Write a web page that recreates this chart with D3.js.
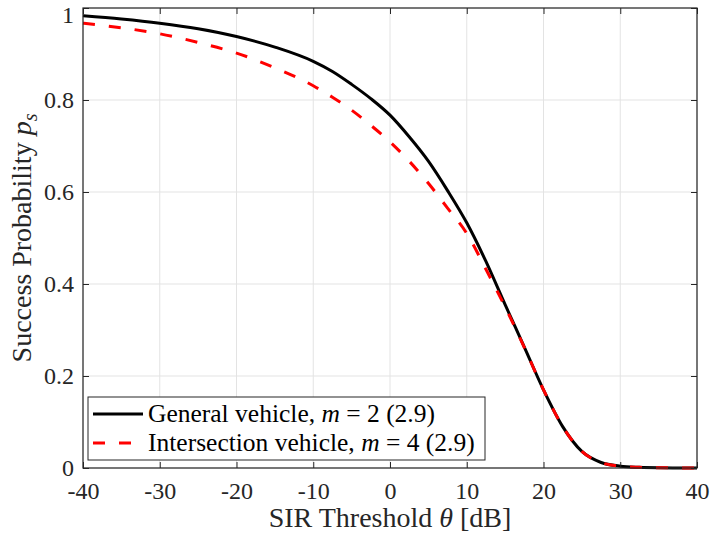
<!DOCTYPE html>
<html><head><meta charset="utf-8">
<script src="https://cdn.jsdelivr.net/npm/d3@7"></script>
<style>body{margin:0;background:#fff}svg{display:block}</style>
</head><body>
<svg id="c" width="710" height="537"></svg>
<script>
const theta = [-40,-35,-30,-25,-20,-15,-10,-7.5,-5,-2.5,0,2.5,5,7.5,10,12.5,15,17.5,20,22.5,25,27.5,30,32.5,35,37.5,40];
const generalVehicle = [0.983,0.976,0.967,0.955,0.938,0.915,0.884,0.862,0.834,0.803,0.767,0.720,0.667,0.603,0.533,0.449,0.355,0.263,0.170,0.090,0.036,0.012,0.004,0.0015,0.0005,0.0002,0];
const intersectionVehicle = [0.967,0.957,0.944,0.925,0.902,0.870,0.831,0.806,0.778,0.745,0.709,0.667,0.619,0.565,0.510,0.432,0.350,0.262,0.170,0.090,0.036,0.012,0.004,0.0015,0.0005,0.0002,0];
const xTicks = [-40,-30,-20,-10,0,10,20,30,40];
const xTickLabels = ["-40","-30","-20","-10","0","10","20","30","40"];
const yTicks = [0,0.2,0.4,0.6,0.8,1];
const yTickLabels = ["0","0.2","0.4","0.6","0.8","1"];

const svg = d3.select("#c");
const L=83,R=697,T=8,B=468;
const x = d3.scaleLinear().domain([-40,40]).range([L,R]);
const y = d3.scaleLinear().domain([0,1]).range([B,T]);
const font = "'Liberation Serif','Times New Roman',serif";
const axc = "#262626";

// grid
svg.append("g").selectAll("line").data(xTicks).join("line")
  .attr("x1",d=>x(d)).attr("x2",d=>x(d)).attr("y1",T).attr("y2",B)
  .attr("stroke","#e3e3e3").attr("stroke-width",1);
svg.append("g").selectAll("line").data(yTicks).join("line")
  .attr("y1",d=>y(d)).attr("y2",d=>y(d)).attr("x1",L).attr("x2",R)
  .attr("stroke","#e3e3e3").attr("stroke-width",1);

const line = d3.line().x((d,i)=>x(theta[i])).y(d=>y(d)).curve(d3.curveMonotoneX);
svg.append("path").datum(generalVehicle).attr("d",line)
  .attr("fill","none").attr("stroke","#000").attr("stroke-width",3);
svg.append("path").datum(intersectionVehicle).attr("d",line)
  .attr("fill","none").attr("stroke","#ff0000").attr("stroke-width",3)
  .attr("stroke-dasharray","12,14");

// axes with inward ticks on all sides
const tl = 6;
const gb = svg.append("g").attr("transform",`translate(0,${B})`)
  .call(d3.axisBottom(x).tickValues(xTicks).tickSize(-tl).tickPadding(14).tickFormat((d,i)=>xTickLabels[i]));
const gt = svg.append("g").attr("transform",`translate(0,${T})`)
  .call(d3.axisTop(x).tickValues(xTicks).tickSize(-tl).tickFormat(""));
const gl = svg.append("g").attr("transform",`translate(${L},0)`)
  .call(d3.axisLeft(y).tickValues(yTicks).tickSize(-tl).tickPadding(9).tickFormat((d,i)=>yTickLabels[i]));
const gr = svg.append("g").attr("transform",`translate(${R},0)`)
  .call(d3.axisRight(y).tickValues(yTicks).tickSize(-tl).tickFormat(""));
[gb,gt,gl,gr].forEach(g=>{
  g.select(".domain").remove();
  g.selectAll(".tick line").attr("stroke",axc).attr("stroke-width",1);
  g.selectAll("text").attr("font-family",font).attr("font-size",24).attr("fill",axc);
});
gb.selectAll("text").attr("dy","0.71em");
gl.selectAll(".tick text").filter(d=>d===1).attr("dy","0.6em");
svg.append("rect").attr("x",L).attr("y",T).attr("width",R-L).attr("height",B-T)
  .attr("fill","none").attr("stroke",axc).attr("stroke-width",1.2);

// axis labels
svg.append("text").attr("x",(L+R)/2).attr("y",527).attr("text-anchor","middle")
  .attr("font-family",font).attr("font-size",28).attr("fill",axc)
  .html("SIR Threshold <tspan font-style='italic'>θ</tspan> [dB]");
svg.append("text").attr("transform",`translate(31,${(T+B)/2}) rotate(-90)`).attr("text-anchor","middle")
  .attr("font-family",font).attr("font-size",28).attr("fill",axc)
  .html("Success Probability <tspan font-style='italic'>p</tspan><tspan font-style='italic' font-size='20' dy='6'>s</tspan>");

// legend
const leg = svg.append("g");
leg.append("rect").attr("x",88).attr("y",397).attr("width",397).attr("height",63)
  .attr("fill","#fff").attr("stroke",axc).attr("stroke-width",1);
const items = [
  {label:"General vehicle, <tspan font-style='italic'>m</tspan> = 2 (2.9)", color:"#000", dash:null, yy:414},
  {label:"Intersection vehicle, <tspan font-style='italic'>m</tspan> = 4 (2.9)", color:"#ff0000", dash:"12,14", yy:443}
];
items.forEach(it=>{
  leg.append("line").attr("x1",93).attr("x2",143).attr("y1",it.yy).attr("y2",it.yy)
    .attr("stroke",it.color).attr("stroke-width",3).attr("stroke-dasharray",it.dash);
  leg.append("text").attr("x",148).attr("y",it.yy+8).attr("font-family",font).attr("font-size",25.5)
    .attr("fill","#000").html(it.label);
});
</script>
</body></html>
